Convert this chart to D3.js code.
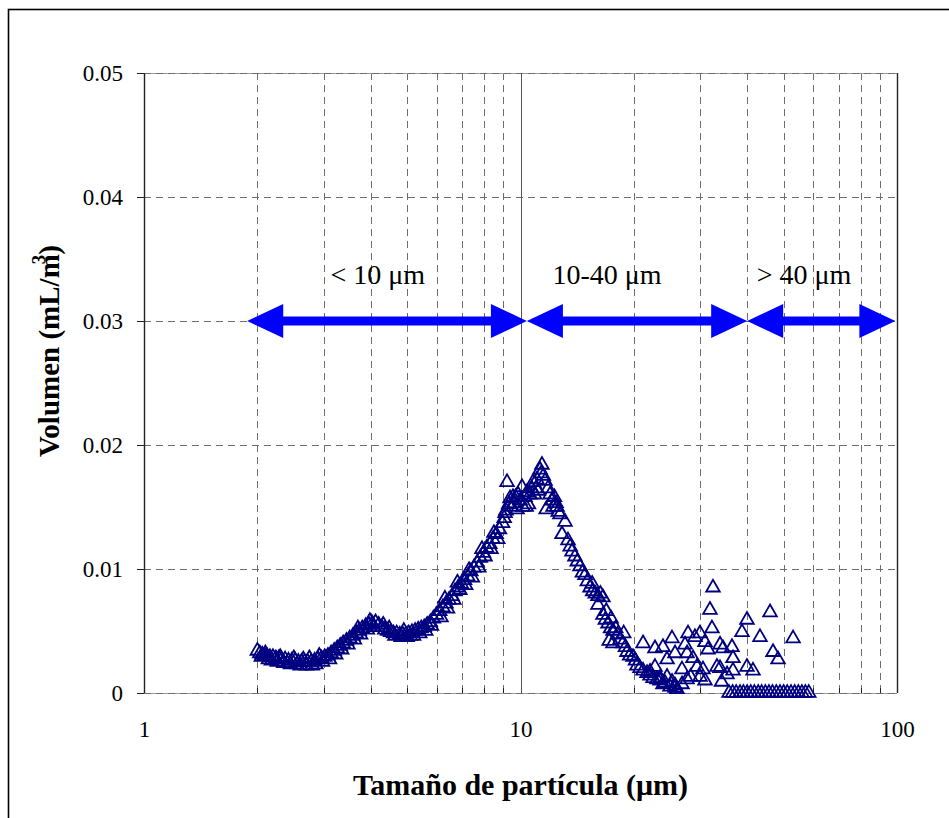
<!DOCTYPE html>
<html>
<head>
  <meta charset="utf-8">
  <title>Volumen vs Tamaño de partícula</title>
  <style>
    body {
      margin: 0;
      padding: 0;
      background-color: #fff;
    }

    svg {
      display: block;
    }

    text {
      font-family: "Liberation Serif", "Times New Roman", serif;
      fill: #000;
    }

    .grid {
      stroke: #6e6e6e;
      stroke-width: 1;
      stroke-dasharray: 7,5;
    }

    .marker {
      fill: none;
      stroke: #000080;
      stroke-width: 1.8;
    }
  </style>
</head>
<body>
  <div id="container"></div>

  <script src="https://d3js.org/d3.v7.min.js"></script>
  <script>
    // Particle size (um) for each measured point
    const sizeUm = [
      // 2 - 3 um
      2.00, 2.03, 2.06, 2.09, 2.12, 2.16, 2.20, 2.24, 2.28, 2.32, 2.37, 2.42, 2.47, 2.52, 2.57, 2.62, 2.67, 2.72, 2.78, 2.84, 2.90, 2.96,
      2.05, 2.14, 2.26, 2.40, 2.55, 2.70, 2.86, 2.98, 2.10, 2.30, 2.50, 2.75, 2.92,
      2.18, 2.35, 2.45, 2.60, 2.65, 2.80,
      // 3 - 4.2 um
      3.02, 3.08, 3.14, 3.20, 3.26, 3.32, 3.38, 3.45, 3.52, 3.59, 3.66, 3.73, 3.80, 3.88, 3.96, 4.04, 4.12, 4.20,
      3.11, 3.23, 3.35, 3.48, 3.62, 3.76, 3.92, 4.08, 3.70, 3.98,
      // 4.2 - 6 um
      4.28, 4.36, 4.44, 4.52, 4.60, 4.69, 4.78, 4.87, 4.96, 5.05, 5.15, 5.25, 5.35, 5.45, 5.55, 5.65, 5.76, 5.87, 5.98,
      4.32, 4.48, 4.64, 4.82, 5.00, 5.20, 5.40, 5.60, 5.80, 4.90, 5.10,
      // 6 - 9 um
      6.10, 6.22, 6.34, 6.46, 6.58, 6.70, 6.83, 6.96, 7.10, 7.24, 7.38, 7.52, 7.67, 7.82, 7.97, 8.13, 8.29, 8.45, 8.62, 8.79, 8.96,
      6.15, 6.40, 6.65, 6.90, 7.15, 7.45, 7.75, 8.05, 8.35, 8.70, 6.30, 6.80, 7.30, 7.90, 8.50,
      // 9 - 14.6 um (main peak)
      9.05, 9.15, 9.21, 9.30, 9.38, 9.48, 9.55, 9.65, 9.79, 9.85, 9.97, 10.09, 10.15, 10.28, 10.41, 10.50, 10.60, 10.70, 10.80, 10.90,
      11.06, 11.15, 11.27, 11.40, 11.50, 11.62, 11.70, 11.83, 11.98, 12.10, 12.20, 12.43, 12.60, 12.73, 12.89, 13.13, 13.37, 13.55, 13.70, 13.95,
      14.15, 14.39, 14.60, 9.10, 9.70, 10.35, 11.00, 11.35, 12.30, 12.50,
      // 14.8 - 26 um
      14.84, 15.05, 15.30, 15.50, 15.55, 15.80, 16.06, 16.06, 16.30, 16.56, 16.56, 16.80, 16.90, 17.08, 17.35, 17.40, 17.61, 17.90, 18.10, 18.38,
      18.70, 18.80, 19.00, 19.18, 19.50, 19.90, 20.20, 20.39, 20.77, 21.16, 21.68, 22.08, 22.49, 23.04, 23.47, 24.20, 24.95, 25.73, 17.20, 17.60,
      // scattered tail 20 - 53 um
      21.16, 22.76, 23.90, 25.26, 25.73, 27.35, 27.86, 29.07, 29.98, 27.69, 28.72, 29.43, 30.53, 29.98, 24.50, 22.76, 22.08, 23.47, 26.85, 31.48,
      30.90, 32.25, 32.45, 31.86, 33.88, 34.50, 36.45, 36.68, 33.25, 33.88, 35.36, 36.68, 38.75, 39.95, 39.95, 41.45, 43.26, 46.00, 46.85, 48.31,
      52.96, 25.26, 25.73, 26.04, 26.85, 27.69, 28.30, 30.90, 34.20, 24.50, 23.90,
      // empty bins
      35.8, 36.6, 37.4, 38.3, 39.1, 40.0, 40.9, 41.8, 42.8, 43.7, 44.7, 45.7, 46.7, 47.8, 48.9, 50.0, 51.1, 52.3, 53.5, 54.7, 55.9, 57.1, 58.3
    ];

    // Volume (mL/m3) for each point, same order as sizeUm
    const volume = [
      // 2 - 3 um
      0.0034, 0.0032, 0.0031, 0.0030, 0.0030, 0.0029, 0.0029, 0.0028, 0.0028, 0.0027, 0.0027, 0.0026, 0.0026, 0.0026, 0.0025, 0.0025, 0.0025, 0.0025, 0.0025, 0.0026, 0.0027, 0.0028,
      0.0029, 0.0027, 0.0025, 0.0024, 0.0023, 0.0022, 0.0023, 0.0025, 0.0032, 0.0029, 0.0028, 0.0028, 0.0030,
      0.0026, 0.0024, 0.0023, 0.0022, 0.0027, 0.0022,
      // 3 - 4.2 um
      0.0029, 0.0030, 0.0032, 0.0034, 0.0036, 0.0038, 0.0040, 0.0042, 0.0044, 0.0046, 0.0048, 0.0050, 0.0052, 0.0054, 0.0055, 0.0056, 0.0057, 0.0055,
      0.0027, 0.0031, 0.0035, 0.0039, 0.0043, 0.0047, 0.0051, 0.0053, 0.0052, 0.0058,
      // 4.2 - 6 um
      0.0053, 0.0051, 0.0050, 0.0049, 0.0048, 0.0048, 0.0047, 0.0047, 0.0047, 0.0048, 0.0049, 0.0050, 0.0051, 0.0052, 0.0053, 0.0055, 0.0057, 0.0060, 0.0063,
      0.0055, 0.0052, 0.0046, 0.0045, 0.0045, 0.0046, 0.0048, 0.0050, 0.0054, 0.0050, 0.0046,
      // 6 - 9 um
      0.0066, 0.0069, 0.0072, 0.0075, 0.0078, 0.0082, 0.0085, 0.0088, 0.0091, 0.0094, 0.0098, 0.0101, 0.0105, 0.0109, 0.0113, 0.0117, 0.0120, 0.0124, 0.0128, 0.0132, 0.0137,
      0.0061, 0.0068, 0.0075, 0.0083, 0.0087, 0.0093, 0.0101, 0.0110, 0.0116, 0.0124, 0.0076, 0.0089, 0.0099, 0.0116, 0.0129,
      // 9 - 14.6 um (main peak)
      0.0141, 0.0147, 0.0170, 0.0152, 0.0157, 0.0150, 0.0158, 0.0153, 0.0148, 0.0160, 0.0155, 0.0166, 0.0150, 0.0158, 0.0162, 0.0152, 0.0160, 0.0165, 0.0170, 0.0160,
      0.0172, 0.0163, 0.0180, 0.0184, 0.0175, 0.0171, 0.0148, 0.0165, 0.0160, 0.0155, 0.0150, 0.0153, 0.0146, 0.0144, 0.0128, 0.0138, 0.0123, 0.0118, 0.0114, 0.0110,
      0.0106, 0.0102, 0.0097, 0.0145, 0.0158, 0.0150, 0.0165, 0.0177, 0.0158, 0.0150,
      // 14.8 - 26 um
      0.0095, 0.0090, 0.0085, 0.0088, 0.0082, 0.0080, 0.0078, 0.0071, 0.0080, 0.0077, 0.0063, 0.0059, 0.0066, 0.0056, 0.0052, 0.0060, 0.0050, 0.0052, 0.0047, 0.0043,
      0.0040, 0.0048, 0.0037, 0.0033, 0.0030, 0.0029, 0.0026, 0.0022, 0.0020, 0.0018, 0.0016, 0.0014, 0.0012, 0.0011, 0.0010, 0.0008, 0.0005, 0.0006, 0.0042, 0.0040,
      // scattered tail 20 - 53 um
      0.0040, 0.0036, 0.0037, 0.0044, 0.0032, 0.0039, 0.0048, 0.0045, 0.0048, 0.0032, 0.0028, 0.0021, 0.0019, 0.0013, 0.0027, 0.0021, 0.0017, 0.0012, 0.0019, 0.0035,
      0.0041, 0.0052, 0.0085, 0.0067, 0.0039, 0.0036, 0.0037, 0.0028, 0.0021, 0.0020, 0.0015, 0.0018, 0.0049, 0.0059, 0.0021, 0.0018, 0.0045, 0.0065, 0.0033, 0.0027,
      0.0044, 0.0009, 0.0004, 0.0003, 0.0007, 0.0011, 0.0013, 0.0010, 0.0009, 0.0013, 0.0007,
      // empty bins
      0, 0, 0, 0, 0, 0, 0, 0, 0, 0, 0, 0, 0, 0, 0, 0, 0, 0, 0, 0, 0, 0, 0
    ];

    // Axis ticks and gridlines
    const xTickLabels = [1, 10, 100];
    const xMinor = [2, 3, 4, 5, 6, 7, 8, 9, 20, 30, 40, 50, 60, 70, 80, 90];
    const yTicks = [0, 0.01, 0.02, 0.03, 0.04, 0.05];

    // Size ranges shown with double arrows (um)
    const rangeStart = [1.88, 10.4, 40];
    const rangeEnd = [10.4, 40, 99];
    const rangeLabels = ["< 10 \u03bcm", "10-40 \u03bcm", "> 40 \u03bcm"];
    const rangeLabelAt = [4.18, 16.97, 56.6];
    const rangeLevel = 0.03;

    const width = 949;
    const height = 818;
    const plot = { left: 144, right: 897, top: 73, bottom: 693 };

    const svg = d3.select("#container")
      .append("svg")
      .attr("width", width)
      .attr("height", height);

    svg.append("rect")
      .attr("width", width)
      .attr("height", height)
      .attr("fill", "#fff");

    // outer chart frame (runs off the right/bottom of the picture)
    svg.append("rect")
      .attr("x", 8.5)
      .attr("y", 9.5)
      .attr("width", 1000)
      .attr("height", 900)
      .attr("fill", "none")
      .attr("stroke", "#000")
      .attr("stroke-width", 1.6);

    const x = d3.scaleLog()
      .domain([1, 100])
      .range([plot.left, plot.right]);

    const y = d3.scaleLinear()
      .domain([0, 0.05])
      .range([plot.bottom, plot.top]);

    // Gridlines
    const grid = svg.append("g");

    grid.selectAll("line.vgrid")
      .data(xMinor)
      .join("line")
      .attr("class", "grid vgrid")
      .attr("x1", d => Math.round(x(d)) + 0.5)
      .attr("x2", d => Math.round(x(d)) + 0.5)
      .attr("y1", plot.top)
      .attr("y2", plot.bottom);

    grid.selectAll("line.hbase")
      .data([0, 0.05])
      .join("line")
      .attr("x1", plot.left)
      .attr("x2", plot.right)
      .attr("y1", d => Math.round(y(d)) + 0.5)
      .attr("y2", d => Math.round(y(d)) + 0.5)
      .attr("stroke", "#9a9a9a");

    grid.selectAll("line.hgrid")
      .data(yTicks)
      .join("line")
      .attr("class", "grid hgrid")
      .attr("x1", plot.left)
      .attr("x2", plot.right)
      .attr("y1", d => Math.round(y(d)) + 0.5)
      .attr("y2", d => Math.round(y(d)) + 0.5)
      .attr("stroke", "#444");

    // solid line at 10 um and the side edges
    grid.selectAll("line.solid")
      .data([1, 10, 100])
      .join("line")
      .attr("x1", d => Math.round(x(d)) + 0.5)
      .attr("x2", d => Math.round(x(d)) + 0.5)
      .attr("y1", plot.top)
      .attr("y2", plot.bottom)
      .attr("stroke", d => d === 10 ? "#555" : "#222")
      .attr("stroke-width", d => d === 10 ? 1 : 1.4);

    // minor ticks along the bottom, pointing inward
    grid.selectAll("line.minor")
      .data(xMinor)
      .join("line")
      .attr("x1", d => Math.round(x(d)) + 0.5)
      .attr("x2", d => Math.round(x(d)) + 0.5)
      .attr("y1", plot.bottom)
      .attr("y2", plot.bottom - 5)
      .attr("stroke", "#222");

    // Y axis
    const yAxis = svg.append("g")
      .attr("transform", `translate(${plot.left},0)`)
      .call(d3.axisLeft(y)
        .tickValues(yTicks)
        .tickFormat(d => d === 0 ? "0" : d3.format(".2f")(d))
        .tickSize(7)
        .tickPadding(14));
    yAxis.select(".domain").remove();
    yAxis.selectAll(".tick line").attr("stroke", "#222");
    yAxis.selectAll("text")
      .attr("font-size", 23)
      .attr("font-family", "Liberation Serif, Times New Roman, serif");

    // X axis labels
    const xAxis = svg.append("g")
      .attr("transform", `translate(0,${plot.bottom})`)
      .call(d3.axisBottom(x)
        .tickValues(xTickLabels)
        .tickFormat(d3.format("d"))
        .tickSize(0)
        .tickPadding(28));
    xAxis.select(".domain").remove();
    xAxis.selectAll("text")
      .attr("font-size", 23)
      .attr("font-family", "Liberation Serif, Times New Roman, serif");

    // Data points
    const points = sizeUm.map((s, i) => ({ size: s, vol: volume[i] }));
    const triangle = d3.symbol().type(d3.symbolTriangle).size(80);

    svg.append("g")
      .selectAll("path")
      .data(points)
      .join("path")
      .attr("class", "marker")
      .attr("d", triangle)
      .attr("transform", d => `translate(${x(d.size)},${y(d.vol)})`);

    // Double-headed range arrows
    function arrowPath(x1, x2, yc) {
      const L = 36, h = 17, t = 4.5;
      return `M${x1},${yc} L${x1 + L},${yc - h} L${x1 + L},${yc - t} L${x2 - L},${yc - t} L${x2 - L},${yc - h} ` +
        `L${x2},${yc} L${x2 - L},${yc + h} L${x2 - L},${yc + t} L${x1 + L},${yc + t} L${x1 + L},${yc + h} Z`;
    }

    const ranges = rangeStart.map((s, i) => ({ from: s, to: rangeEnd[i], label: rangeLabels[i], at: rangeLabelAt[i] }));

    svg.append("g")
      .selectAll("path")
      .data(ranges)
      .join("path")
      .attr("d", d => arrowPath(x(d.from), x(d.to), y(rangeLevel)))
      .attr("fill", "#0000ff");

    svg.append("g")
      .selectAll("text")
      .data(ranges)
      .join("text")
      .attr("x", d => x(d.at))
      .attr("y", y(rangeLevel) - 37)
      .attr("text-anchor", "middle")
      .attr("font-size", 28)
      .text(d => d.label);

    // Axis titles
    svg.append("text")
      .attr("x", (plot.left + plot.right) / 2)
      .attr("y", 795)
      .attr("text-anchor", "middle")
      .attr("font-size", 30)
      .attr("font-weight", "bold")
      .text("Tamaño de partícula (\u03bcm)");

    const yTitle = svg.append("text")
      .attr("transform", "translate(59,351) rotate(-90)")
      .attr("text-anchor", "middle")
      .attr("font-size", 29)
      .attr("font-weight", "bold");
    yTitle.append("tspan").text("Volumen (mL/m");
    yTitle.append("tspan")
      .attr("dx", -10)
      .attr("dy", -14)
      .attr("font-size", 19)
      .text("3");
    yTitle.append("tspan")
      .attr("dy", 14)
      .text(")");
  </script>
</body>
</html>
